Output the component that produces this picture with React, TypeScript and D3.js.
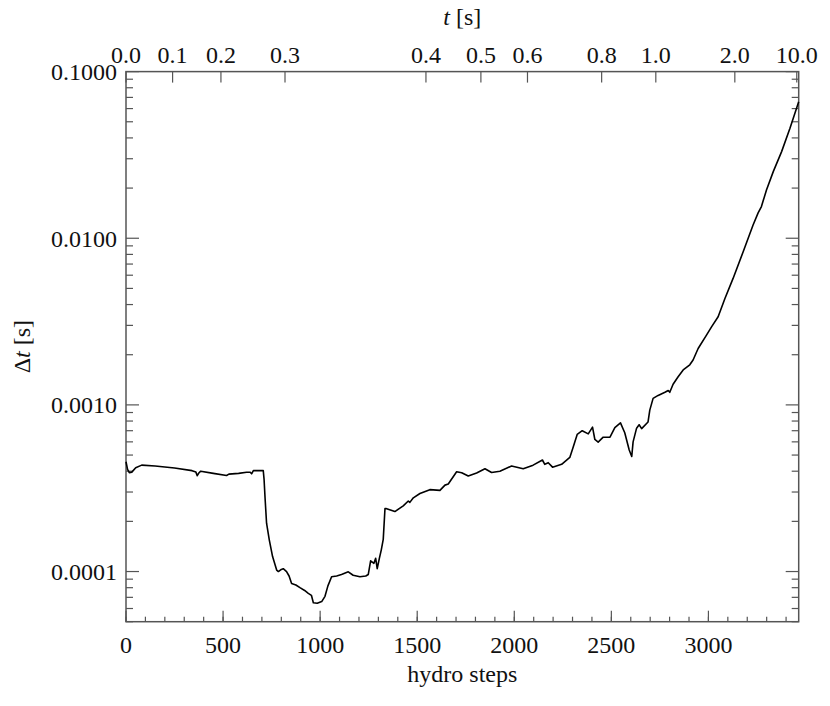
import React from "react";
import * as d3 from "d3";

const steps = [0, 8, 17, 30, 50, 81, 150, 250, 340, 360, 367, 375, 385, 450, 518, 530, 580, 621, 640, 647, 656, 707, 711, 716, 724, 738, 755, 776, 785, 800, 810, 827, 840, 853, 875, 896, 920, 939, 955, 965, 985, 1008, 1025, 1040, 1059, 1085, 1110, 1145, 1170, 1205, 1235, 1248, 1260, 1277, 1286, 1294, 1305, 1315, 1325, 1334, 1339, 1385, 1428, 1454, 1462, 1480, 1514, 1565, 1617, 1643, 1660, 1703, 1729, 1763, 1806, 1849, 1883, 1926, 1986, 2046, 2097, 2145, 2157, 2175, 2197, 2244, 2286, 2304, 2324, 2350, 2381, 2403, 2415, 2432, 2458, 2493, 2518, 2547, 2569, 2592, 2605, 2612, 2630, 2643, 2656, 2689, 2698, 2715, 2741, 2776, 2793, 2801, 2818, 2844, 2870, 2904, 2921, 2947, 2990, 3016, 3050, 3085, 3127, 3179, 3230, 3256, 3273, 3299, 3334, 3377, 3420, 3465];
const dt = [4.56e-4, 4.1e-4, 3.92e-4, 3.95e-4, 4.2e-4, 4.35e-4, 4.3e-4, 4.18e-4, 4.03e-4, 3.95e-4, 3.76e-4, 3.9e-4, 4.0e-4, 3.88e-4, 3.77e-4, 3.84e-4, 3.88e-4, 3.94e-4, 3.94e-4, 3.86e-4, 4.03e-4, 4.03e-4, 3.6e-4, 2.8e-4, 1.95e-4, 1.55e-4, 1.23e-4, 1.02e-4, 1.0e-4, 1.03e-4, 1.04e-4, 1.0e-4, 9.4e-5, 8.47e-5, 8.3e-5, 8.0e-5, 7.7e-5, 7.4e-5, 7.2e-5, 6.49e-5, 6.45e-5, 6.6e-5, 7.1e-5, 8.2e-5, 9.3e-5, 9.4e-5, 9.6e-5, 9.96e-5, 9.5e-5, 9.3e-5, 9.4e-5, 9.6e-5, 1.16e-4, 1.12e-4, 1.2e-4, 1.04e-4, 1.2e-4, 1.35e-4, 1.56e-4, 2.39e-4, 2.39e-4, 2.29e-4, 2.48e-4, 2.65e-4, 2.6e-4, 2.77e-4, 2.94e-4, 3.1e-4, 3.07e-4, 3.3e-4, 3.35e-4, 3.97e-4, 3.92e-4, 3.74e-4, 3.9e-4, 4.14e-4, 3.93e-4, 4.0e-4, 4.3e-4, 4.14e-4, 4.35e-4, 4.67e-4, 4.4e-4, 4.5e-4, 4.23e-4, 4.4e-4, 4.84e-4, 5.6e-4, 6.65e-4, 7.0e-4, 6.7e-4, 7.35e-4, 6.2e-4, 5.98e-4, 6.4e-4, 6.4e-4, 7.3e-4, 7.8e-4, 6.8e-4, 5.36e-4, 4.9e-4, 6.0e-4, 7.25e-4, 7.6e-4, 7.2e-4, 7.9e-4, 9.3e-4, 1.094e-3, 1.14e-3, 1.19e-3, 1.22e-3, 1.19e-3, 1.33e-3, 1.476e-3, 1.62e-3, 1.74e-3, 1.86e-3, 2.18e-3, 2.62e-3, 2.94e-3, 3.38e-3, 4.35e-3, 5.74e-3, 8.3e-3, 1.2e-2, 1.42e-2, 1.55e-2, 1.95e-2, 2.51e-2, 3.31e-2, 4.57e-2, 6.6e-2];

const xTicks = [0, 500, 1000, 1500, 2000, 2500, 3000];
const xMinorTicks = d3.range(0, 3465, 100);
const yTicks = [0.0001, 0.001, 0.01, 0.1];
const yTickLabels = ["0.0001", "0.0010", "0.0100", "0.1000"];
const topTickSteps = [0, 240, 489, 819, 1545, 1828, 2068, 2450, 2729, 3136, 3455];
const topTickLabels = ["0.0", "0.1", "0.2", "0.3", "0.4", "0.5", "0.6", "0.8", "1.0", "2.0", "10.0"];

const W = 830, H = 706;
const L = 126, R = 798.7, T = 71.6, B = 621.7;
const FONT = "Liberation Serif, Tinos, Times New Roman, Times, DejaVu Serif, serif";
const AX = "#555";
const txt: React.CSSProperties = { fontFamily: FONT, fontSize: "24px" };

export default function App() {
  const x = d3.scaleLinear().domain([0, 3465]).range([L, R]);
  const y = d3.scaleLog().domain([5e-5, 0.1]).range([B, T]);
  const pts = steps.map((s, i) => [s, dt[i]] as [number, number]);
  const line = d3.line<[number, number]>().x(d => x(d[0])).y(d => y(d[1]));

  const yMinor: number[] = [];
  for (let e = -5; e <= -2; e++) {
    for (let m = 2; m <= 9; m++) {
      const v = m * Math.pow(10, e);
      if (v >= 5e-5 && v < 0.1) yMinor.push(v);
    }
  }

  return (
    <svg width={W} height={H} style={{ position: "absolute", left: 0, top: 0, background: "#fff" }}>
      <rect x={0} y={0} width={W} height={H} fill="#fff" />
      <rect x={L} y={T} width={R - L} height={B - T} fill="none" stroke={AX} strokeWidth={1.5} />
      {xMinorTicks.map(t => (
        <line key={"bm" + t} x1={x(t)} x2={x(t)} y1={B} y2={B - 5} stroke={AX} strokeWidth={1.2} />
      ))}
      {xTicks.map(t => (
        <g key={"bx" + t}>
          <line x1={x(t)} x2={x(t)} y1={B} y2={B - 11} stroke={AX} strokeWidth={1.2} />
          <text x={x(t)} y={653} textAnchor="middle" style={txt} fill="#111">{t}</text>
        </g>
      ))}
      {topTickSteps.map((s, i) => (
        <g key={"tt" + i}>
          <line x1={x(s)} x2={x(s)} y1={T} y2={T + 11} stroke={AX} strokeWidth={1.2} />
          <text x={x(s)} y={63} textAnchor="middle" style={txt} fill="#111">{topTickLabels[i]}</text>
        </g>
      ))}
      {yMinor.map(v => (
        <g key={"ym" + v}>
          <line x1={L} x2={L + 7} y1={y(v)} y2={y(v)} stroke={AX} strokeWidth={1.2} />
          <line x1={R} x2={R - 7} y1={y(v)} y2={y(v)} stroke={AX} strokeWidth={1.2} />
        </g>
      ))}
      {yTicks.map((v, i) => (
        <g key={"yt" + v}>
          <line x1={L} x2={L + 13} y1={y(v)} y2={y(v)} stroke={AX} strokeWidth={1.2} />
          <line x1={R} x2={R - 13} y1={y(v)} y2={y(v)} stroke={AX} strokeWidth={1.2} />
          <text x={117} y={y(v)} dy="0.35em" textAnchor="end" style={txt} fill="#111">{yTickLabels[i]}</text>
        </g>
      ))}
      <path d={line(pts) || ""} fill="none" stroke="#000" strokeWidth={1.6} strokeLinejoin="round" />
      <text x={(L + R) / 2} y={682} textAnchor="middle" style={txt} fill="#111">hydro steps</text>
      <text x={(L + R) / 2} y={25} textAnchor="middle" style={txt} fill="#111">
        <tspan fontStyle="italic">t</tspan> [s]
      </text>
      <text transform={`translate(30, ${(T + B) / 2}) rotate(-90)`} textAnchor="middle" style={txt} fill="#111">
        Δ<tspan fontStyle="italic">t</tspan> [s]
      </text>
    </svg>
  );
}
